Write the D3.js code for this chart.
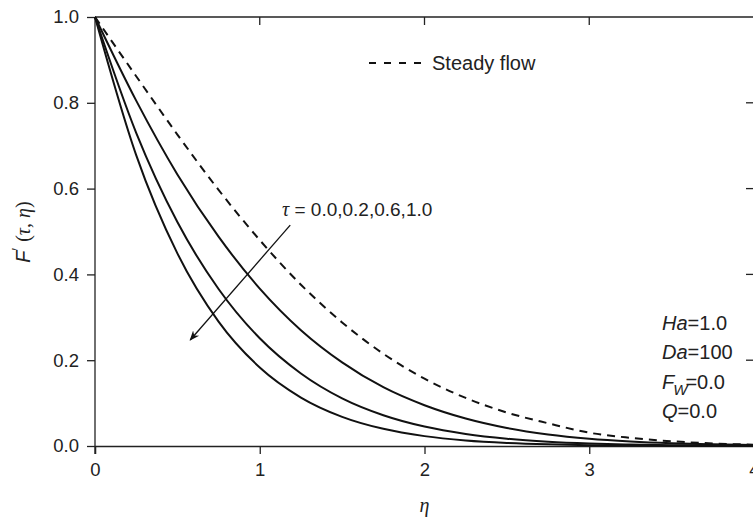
<!DOCTYPE html>
<html>
<head>
<meta charset="utf-8">
<script src="https://cdn.jsdelivr.net/npm/d3@7"></script>
<style>
  body { margin: 0; background: #fff; }
  svg { display: block; font-family: "Liberation Sans", Arial, sans-serif; }
</style>
</head>
<body>
<svg id="chart" width="753" height="522"></svg>
<script>
// eta grid shared by all curves
var etaValues = [0, 0.25, 0.5, 0.75, 1.0, 1.25, 1.5, 1.75, 2.0, 2.25, 2.5, 2.75, 3.0, 3.25, 3.5, 3.75, 4.0];

// steady flow (dashed)
var steadyFlow = [1.0, 0.862, 0.726, 0.597, 0.480, 0.376, 0.288, 0.215, 0.157, 0.112, 0.078, 0.053, 0.031, 0.019, 0.011, 0.006, 0.003];

// unsteady curves (solid), upper to lower
var curveUpper = [1.0, 0.805, 0.633, 0.488, 0.367, 0.270, 0.195, 0.137, 0.095, 0.064, 0.042, 0.027, 0.017, 0.0106, 0.0064, 0.0038, 0.0022];
var curveMiddle = [1.0, 0.730, 0.522, 0.366, 0.251, 0.169, 0.111, 0.0717, 0.0453, 0.0281, 0.017, 0.0101, 0.0059, 0.0034, 0.0019, 0.001, 0.0005];
var curveLower = [1.0, 0.678, 0.449, 0.290, 0.183, 0.113, 0.068, 0.040, 0.023, 0.0129, 0.0071, 0.0038, 0.002, 0.001, 0.0005, 0.0002, 0.0001];

var xTicks = [0, 1, 2, 3, 4];
var yTicks = [0.0, 0.2, 0.4, 0.6, 0.8, 1.0];

// annotation arrow (data units): start, end
var arrowStart = [1.185, 0.515];
var arrowEnd = [0.578, 0.247];

var svg = d3.select("#chart");

var x = d3.scaleLinear().domain([0, 4]).range([95, 754]);
var y = d3.scaleLinear().domain([0, 1]).range([446, 17]);

var axisColor = "#222";

// frame lines
svg.append("line").attr("x1", x(0)).attr("x2", x(4)).attr("y1", y(1)).attr("y2", y(1))
  .attr("stroke", axisColor).attr("stroke-width", 1.3);
svg.append("line").attr("x1", x(4)).attr("x2", x(4)).attr("y1", y(0)).attr("y2", y(1))
  .attr("stroke", axisColor).attr("stroke-width", 1.3);

// bottom axis
var xAxis = svg.append("g")
  .attr("transform", "translate(0," + y(0) + ")")
  .call(d3.axisBottom(x).tickValues(xTicks).tickFormat(d3.format("d")).tickSizeOuter(0).tickSize(8).tickPadding(9));

// left axis
var yAxis = svg.append("g")
  .attr("transform", "translate(" + x(0) + ",0)")
  .call(d3.axisLeft(y).tickValues(yTicks).tickFormat(d3.format(".1f")).tickSizeOuter(0).tickSize(8).tickPadding(8));

[xAxis, yAxis].forEach(function (g) {
  g.select(".domain").attr("stroke", axisColor).attr("stroke-width", 1.3);
  g.selectAll(".tick line").attr("stroke", axisColor).attr("stroke-width", 1.3);
  g.selectAll(".tick text").attr("fill", "#222").attr("font-size", 18.5)
    .attr("font-family", "'Liberation Sans', Arial, sans-serif");
});
// extend left axis down to the tick under it
yAxis.select(".domain").attr("d", "M0," + y(1) + "V" + (y(0) + 8));

// top ticks (inward) and right ticks (inward)
svg.append("g").selectAll("line")
  .data(xTicks.slice(1, 4))
  .enter().append("line")
  .attr("x1", function (d) { return x(d); }).attr("x2", function (d) { return x(d); })
  .attr("y1", y(1)).attr("y2", y(1) + 8)
  .attr("stroke", axisColor).attr("stroke-width", 1.3);

svg.append("g").selectAll("line")
  .data(yTicks.slice(1, 5))
  .enter().append("line")
  .attr("x1", x(4) - 8).attr("x2", x(4))
  .attr("y1", function (d) { return y(d); }).attr("y2", function (d) { return y(d); })
  .attr("stroke", axisColor).attr("stroke-width", 1.3);

// curves
var line = d3.line()
  .x(function (d, i) { return x(etaValues[i]); })
  .y(function (d) { return y(d); })
  .curve(d3.curveMonotoneX);

[curveUpper, curveMiddle, curveLower].forEach(function (s) {
  svg.append("path").datum(s)
    .attr("d", line)
    .attr("fill", "none")
    .attr("stroke", "#111")
    .attr("stroke-width", 2);
});

svg.append("path").datum(steadyFlow)
  .attr("d", line)
  .attr("fill", "none")
  .attr("stroke", "#111")
  .attr("stroke-width", 2)
  .attr("stroke-dasharray", "8,6");

// legend
svg.append("line")
  .attr("x1", 369).attr("x2", 424).attr("y1", 63).attr("y2", 63)
  .attr("stroke", "#111").attr("stroke-width", 2).attr("stroke-dasharray", "7,8");
svg.append("text").attr("x", 432).attr("y", 70)
  .attr("font-size", 20).attr("fill", "#222").text("Steady flow");

// arrow
svg.append("defs").append("marker")
  .attr("id", "arrowhead")
  .attr("viewBox", "0 0 10 10")
  .attr("refX", 9).attr("refY", 5)
  .attr("markerWidth", 10).attr("markerHeight", 10)
  .attr("markerUnits", "userSpaceOnUse")
  .attr("orient", "auto")
  .append("path").attr("d", "M0,1 L10,5 L0,9 L3,5 Z").attr("fill", "#111");

svg.append("line")
  .attr("x1", x(arrowStart[0])).attr("y1", y(arrowStart[1]))
  .attr("x2", x(arrowEnd[0])).attr("y2", y(arrowEnd[1]))
  .attr("stroke", "#111").attr("stroke-width", 1.3)
  .attr("marker-end", "url(#arrowhead)");

var tauLabel = svg.append("text").attr("x", 282).attr("y", 216)
  .attr("font-size", 19).attr("fill", "#222");
tauLabel.append("tspan").attr("font-family", "'Liberation Serif', 'Times New Roman', serif")
  .attr("font-style", "italic").attr("font-size", 20).text("τ");
tauLabel.append("tspan").text(" = 0.0,0.2,0.6,1.0");

// parameter labels
var params = [
  { name: "Ha", sub: null, value: "=1.0" },
  { name: "Da", sub: null, value: "=100" },
  { name: "F", sub: "W", value: "=0.0" },
  { name: "Q", sub: null, value: "=0.0" }
];
params.forEach(function (p, i) {
  var t = svg.append("text").attr("x", 662).attr("y", 330 + i * 29.3)
    .attr("font-size", 20).attr("fill", "#222");
  t.append("tspan").attr("font-style", "italic").text(p.name);
  if (p.sub) {
    t.append("tspan").attr("font-style", "italic").attr("font-size", 15)
      .attr("dy", 6).attr("dx", -1).text(p.sub);
    t.append("tspan").attr("dy", -6).attr("dx", -2).text(p.value);
  } else {
    t.append("tspan").text(p.value);
  }
});

// axis titles
var yTitle = svg.append("text")
  .attr("transform", "translate(30," + 232 + ") rotate(-90)")
  .attr("text-anchor", "middle")
  .attr("font-size", 20).attr("fill", "#222");
yTitle.append("tspan").attr("font-style", "italic").text("F");
yTitle.append("tspan").attr("font-size", 14).attr("dy", -8).text("′");
yTitle.append("tspan").attr("dy", 8).attr("dx", 6).attr("font-family", "'Liberation Serif', serif").text("(");
yTitle.append("tspan").attr("font-family", "'Liberation Serif', serif").attr("font-style", "italic").text("τ");
yTitle.append("tspan").attr("font-family", "'Liberation Serif', serif").text(", ");
yTitle.append("tspan").attr("font-family", "'Liberation Serif', serif").attr("font-style", "italic").text("η");
yTitle.append("tspan").attr("font-family", "'Liberation Serif', serif").text(")");

svg.append("text").attr("x", x(2)).attr("y", 512)
  .attr("text-anchor", "middle")
  .attr("font-family", "'Liberation Serif', serif")
  .attr("font-style", "italic").attr("font-size", 20).attr("fill", "#222")
  .text("η");
</script>
</body>
</html>
